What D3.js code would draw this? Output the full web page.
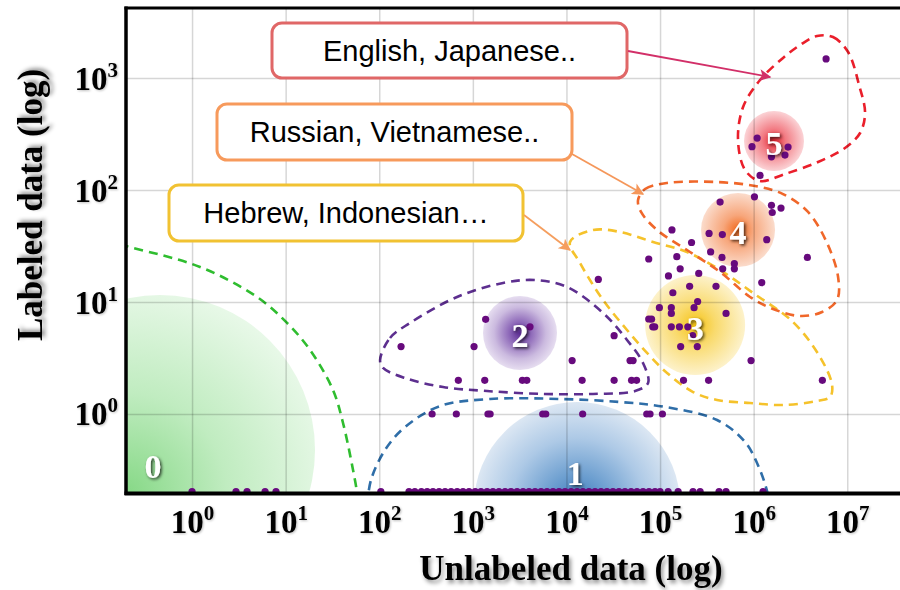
<!DOCTYPE html>
<html>
<head>
<meta charset="utf-8">
<script src="https://cdn.jsdelivr.net/npm/d3@7"></script>
<style>
  html, body { margin: 0; padding: 0; background: #fff; }
  svg { display: block; }
</style>
</head>
<body>
<svg id="chart" width="900" height="590"></svg>
<script>
(function () {

    // ticks
    var xTickValues = [1e0, 1e1, 1e2, 1e3, 1e4, 1e5, 1e6, 1e7];
    var xTickExponents = ["0", "1", "2", "3", "4", "5", "6", "7"];
    var yTickValues = [1e0, 1e1, 1e2, 1e3];
    var yTickExponents = ["0", "1", "2", "3"];

    // languages: [unlabeled, labeled]
    var scatterPoints = [
	[5.94e6, 1480], [1.09e6, 291], [9.6e5, 244], [1.55e6, 198], [2.33e6, 242], [2.16e6, 205], [1.17e6, 135],
	[4.38e5, 78], [1.02e6, 87], [1.55e6, 73], [1.96e6, 69], [1.58e6, 63], [3.34e5, 41], [4.63e5, 40],
	[1.38e6, 36], [2.17e5, 34], [1.34e5, 44], [3.47e5, 28], [4.59e5, 25], [6.22e5, 22], [6.22e5, 19.8],
	[4.67e5, 19.8], [3.75e6, 25], [2.59e5, 18], [1.22e6, 14.9], [3.96e5, 13.8], [2.07e5, 13.8],
	[2.52e5, 10.1], [2.31e5, 8.9], [5.07e5, 7.9], [2.23e5, 5.0], [2.50e5, 4.0], [9.38e5, 3.0],
	[3.30e5, 2.0], [5.42e6, 2.0],
	[7.57e4, 24.2], [1.51e5, 25.4], [1.64e5, 19.8], [1.23e5, 17.1], [2.19e4, 15.9], [1.37e5, 12.1],
	[9.84e4, 8.9], [1.32e5, 8.9], [1.32e5, 7.9], [7.57e4, 7.05], [8.11e4, 7.03], [8.36e4, 6.0],
	[8.77e4, 6.0], [1.32e5, 6.0], [1.61e5, 6.0], [1.98e5, 6.0], [1.66e5, 4.0], [3.23e4, 5.0],
	[1.15e4, 3.0], [4.78e4, 3.0], [5.15e4, 3.0], [1.47e4, 2.0], [3.23e4, 2.0], [4.96e4, 2.0],
	[5.61e4, 2.0], [1.78e5, 2.0], [1.49e4, 1], [7.21e4, 1], [7.82e4, 1], [1.06e5, 1],
	[1.37e3, 7.0], [4.08e3, 6.0], [171, 4.0], [1.03e3, 4.0], [700, 2.0], [1.34e3, 2.0],
	[3.38e3, 2.0], [3.77e3, 2.0], [367, 1], [666, 1], [1.45e3, 1], [1.53e3, 1], [5.58e3, 1], [6.01e3, 1]
    ];

    // languages with no labeled data (drawn on the x axis)
    var zeroLabeled = [
	1.0, 2.95, 3.87, 6.03, 7.89, 104,
	208, 240, 282, 325, 375, 436, 505, 585, 680, 785, 910, 1060, 1220, 1420, 1640, 1900,
	2210, 2560, 2970, 3440, 3980, 4620, 5350, 6200, 7190, 8330, 9660, 1.12e4, 1.3e4, 1.5e4,
	1.74e4, 2.02e4, 2.34e4, 2.71e4, 3.14e4, 3.64e4, 4.22e4, 4.9e4, 5.67e4, 6.58e4, 7.62e4,
	8.83e4, 1.0e5, 1.22e5, 1.56e5, 2.25e5, 2.68e5, 4.27e5, 5.07e5, 1.26e6
    ];

    // clusters
    var clusterNames = ["0", "1", "2", "3", "4", "5"];
    var clusterCenters = [[0.455, 0.477], [1.30e4, 0.154], [3.19e3, 5.29], [2.37e5, 6.23], [6.81e5, 44], [1.65e6, 274]];
    var clusterLabelAt = [[0.383, 0.343], [1.24e4, 0.297], [3.19e3, 5.07], [2.37e5, 5.86], [6.81e5, 42.2], [1.65e6, 263]];

    // hulls, in decades [log10 unlabeled, log10 labeled]
    var hullGreen = [[-0.769, 1.518], [-0.705, 1.500], [0.085, 1.313], [0.694, 1.045], [1.015, 0.813], [1.261, 0.571],
	[1.506, 0.214], [1.613, -0.080], [1.720, -0.500], [1.763, -0.705], [1.774, -0.813]];
    var hullBlue = [[1.870, -0.813], [1.912, -0.589], [2.062, -0.321], [2.276, -0.116], [2.650, 0.071], [3.184, 0.134],
	[3.932, 0.134], [4.573, 0.107], [5.053, 0.063], [5.609, -0.054], [5.908, -0.250], [6.068, -0.500],
	[6.154, -0.723], [6.175, -0.813]];
    var hullPurple = [[2.009, 0.482], [2.115, 0.679], [2.329, 0.813], [2.831, 1.045], [3.323, 1.170], [3.665, 1.196],
	[4.006, 1.134], [4.391, 0.902], [4.647, 0.661], [4.818, 0.455], [4.872, 0.277], [4.733, 0.205],
	[4.284, 0.179], [3.750, 0.179], [3.152, 0.205], [2.682, 0.241], [2.276, 0.321], [2.041, 0.411]];
    var hullYellow = [[4.038, 1.536], [4.284, 1.643], [4.573, 1.625], [4.925, 1.536], [5.288, 1.446], [5.641, 1.286],
	[5.994, 1.080], [6.421, 0.821], [6.709, 0.509], [6.838, 0.259], [6.816, 0.152], [6.677, 0.116],
	[6.314, 0.080], [5.962, 0.098], [5.609, 0.125], [5.353, 0.196], [5.075, 0.366], [4.861, 0.545],
	[4.647, 0.750], [4.391, 1.018], [4.145, 1.348]];
    var hullOrange = [[4.765, 1.911], [4.840, 2.009], [5.075, 2.063], [5.609, 2.071], [6.015, 2.036], [6.314, 1.964],
	[6.581, 1.804], [6.784, 1.527], [6.902, 1.223], [6.891, 1.018], [6.731, 0.911], [6.496, 0.875],
	[6.207, 0.938], [5.962, 1.045], [5.641, 1.268], [5.288, 1.464], [4.968, 1.643], [4.797, 1.804]];
    var hullRed = [[6.677, 3.375], [6.848, 3.366], [7.009, 3.232], [7.126, 2.938], [7.190, 2.688], [7.137, 2.509],
	[6.976, 2.375], [6.688, 2.250], [6.335, 2.143], [6.068, 2.080], [5.908, 2.179], [5.833, 2.446],
	[5.887, 2.741], [6.068, 2.982], [6.314, 3.179], [6.496, 3.295]];

    // annotations
    var noteTexts = ["English, Japanese..", "Russian, Vietnamese..", "Hebrew, Indonesian\u2026"];
    var noteTargets = [[1.50e6, 1020], [6.58e4, 92], [1.09e4, 29.1]];

    // ---- layout / style ----
    var left = 126, right = 900, top = 8, bottom = 493;
    var clusterRadius = [155, 103, 37, 50, 37, 30];
    var clusterStops = [
	[[0, "#86d886"], [0.45, "#c0ecc0"], [1, "#edfaed"]],
	[[0, "#3a78bb"], [0.3, "#6d9fd0"], [0.65, "#adc9e6"], [1, "#dce7f3"]],
	[[0, "#5a2a91"], [0.3, "#8e69b9"], [0.7, "#cbbadf"], [1, "#e6ddf0"]],
	[[0, "#f6c314"], [0.4, "#f9da6c"], [1, "#fdf2cb"]],
	[[0, "#f2691c"], [0.4, "#f7a67b"], [1, "#fbdccc"]],
	[[0, "#e8222e"], [0.4, "#f27c84"], [1, "#fbd3d6"]]
    ];
    var hulls = [
	{pts: hullGreen, color: "#2fbd2f", closed: false},
	{pts: hullBlue, color: "#2f6ea8", closed: false},
	{pts: hullPurple, color: "#5d2f8f", closed: true},
	{pts: hullYellow, color: "#f5c22b", closed: true},
	{pts: hullOrange, color: "#f0672a", closed: true},
	{pts: hullRed, color: "#ea1f2b", closed: true}
    ];
    var noteBoxes = [
	{x: 272, y: 23, w: 355, h: 55, stroke: "#e06767", arrow: "#d22f68", sx: 628, sy: 51},
	{x: 217, y: 104, w: 355, h: 56, stroke: "#f79a5c", arrow: "#f5975a", sx: 572, sy: 154},
	{x: 169, y: 185, w: 354, h: 56, stroke: "#f1c232", arrow: "#f59e5e", sx: 524, sy: 215}
    ];

    var svg = d3.select("#chart");

    var x = d3.scaleLog().domain([0.197, 3.66e7]).range([left, right]);
    var y = d3.scaleLog().domain([0.197, 4220]).range([bottom, top]);

    var defs = svg.append("defs");
    defs.append("clipPath").attr("id", "plot-clip")
	.append("rect").attr("x", left).attr("y", top)
	.attr("width", right - left).attr("height", bottom - top);

    function shadow(id, dx, dy, sd, op) {
	defs.append("filter").attr("id", id)
	    .attr("x", "-20%").attr("y", "-20%").attr("width", "140%").attr("height", "140%")
	    .append("feDropShadow")
	    .attr("dx", dx).attr("dy", dy).attr("stdDeviation", sd)
	    .attr("flood-color", "#000").attr("flood-opacity", op);
    }
    shadow("title-shadow", 2, 3, 2, 0.45);
    shadow("tick-shadow", 1, 1, 1, 0.25);
    shadow("label-shadow", 1.5, 1.5, 1.5, 0.75);

    clusterStops.forEach(function (stops, i) {
	var g = defs.append("radialGradient").attr("id", "grad" + i);
	if (i === 0) {
	    g.attr("cx", "0.39").attr("cy", "0.64").attr("fx", "0.39").attr("fy", "0.64").attr("r", "0.72");
	}
	stops.forEach(function (s) {
	    g.append("stop").attr("offset", s[0]).attr("stop-color", s[1]);
	});
    });

    var plot = svg.append("g").attr("clip-path", "url(#plot-clip)");

    // cluster blobs
    plot.selectAll("circle.blob")
	.data(clusterCenters)
	.enter().append("circle")
	.attr("class", "blob")
	.attr("cx", function (d) { return x(d[0]); })
	.attr("cy", function (d) { return y(d[1]); })
	.attr("r", function (d, i) { return clusterRadius[i]; })
	.style("fill", function (d, i) { return "url(#grad" + i + ")"; });

    // grid
    var gx = svg.append("g")
	.attr("transform", "translate(0," + bottom + ")")
	.call(d3.axisBottom(x).tickValues(xTickValues).tickSize(-(bottom - top)).tickFormat(""));
    var gy = svg.append("g")
	.attr("transform", "translate(" + left + ",0)")
	.call(d3.axisLeft(y).tickValues(yTickValues).tickSize(-(right - left)).tickFormat(""));
    [gx, gy].forEach(function (g) {
	g.select(".domain").remove();
	g.selectAll("line").attr("stroke", "rgba(0,0,0,0.16)").attr("stroke-width", 1.5);
    });

    // hull outlines
    hulls.forEach(function (h) {
	var line = d3.line()
	    .x(function (d) { return x(Math.pow(10, d[0])); })
	    .y(function (d) { return y(Math.pow(10, d[1])); })
	    .curve(h.closed ? d3.curveCatmullRomClosed.alpha(0.5) : d3.curveCatmullRom.alpha(0.5));
	plot.append("path")
	    .attr("d", line(h.pts))
	    .attr("fill", "none")
	    .attr("stroke", h.color)
	    .attr("stroke-width", 2.6)
	    .attr("stroke-dasharray", "9,6");
    });

    // points
    var dotColor = "#670a7d";
    svg.selectAll("circle.dot")
	.data(scatterPoints)
	.enter().append("circle")
	.attr("class", "dot")
	.attr("cx", function (d) { return x(d[0]); })
	.attr("cy", function (d) { return y(d[1]); })
	.attr("r", 3.6)
	.style("fill", dotColor);
    svg.selectAll("circle.zero")
	.data(zeroLabeled)
	.enter().append("circle")
	.attr("class", "zero")
	.attr("cx", function (d) { return x(d); })
	.attr("cy", bottom - 1.5)
	.attr("r", 3.6)
	.style("fill", dotColor);

    // frame
    svg.append("line").attr("x1", left - 1.5).attr("x2", right).attr("y1", top).attr("y2", top)
	.attr("stroke", "#000").attr("stroke-width", 3);
    svg.append("line").attr("x1", left).attr("x2", left).attr("y1", top - 1.5).attr("y2", bottom + 2)
	.attr("stroke", "#000").attr("stroke-width", 3.5);
    svg.append("line").attr("x1", left - 1.5).attr("x2", right).attr("y1", bottom + 0.5).attr("y2", bottom + 0.5)
	.attr("stroke", "#000").attr("stroke-width", 4);

    // tick labels
    var tickFont = "'Liberation Serif', 'Times New Roman', serif";
    var ax = svg.append("g")
	.attr("transform", "translate(0," + bottom + ")")
	.call(d3.axisBottom(x).tickValues(xTickValues).tickSize(0).tickFormat(""));
    var ay = svg.append("g")
	.attr("transform", "translate(" + left + ",0)")
	.call(d3.axisLeft(y).tickValues(yTickValues).tickSize(0).tickFormat(""));
    [ax, ay].forEach(function (g) { g.select(".domain").remove(); });

    function powerLabel(sel, exps) {
	sel.each(function (d, i) {
	    var t = d3.select(this);
	    t.text(null)
		.attr("fill", "#000")
		.style("font-family", tickFont)
		.style("font-weight", "bold")
		.style("font-size", "33px")
		.attr("filter", "url(#tick-shadow)");
	    t.append("tspan").text("10");
	    t.append("tspan").attr("dy", -13).style("font-size", "21px").text(exps[i]);
	});
    }
    ax.selectAll(".tick text").call(powerLabel, xTickExponents)
	.attr("y", 40).attr("dy", 0).attr("text-anchor", "middle");
    ay.selectAll(".tick text").call(powerLabel, yTickExponents)
	.attr("x", -8).attr("y", 11).attr("dy", 0).attr("text-anchor", "end");

    // axis titles
    svg.append("text")
	.attr("x", 571).attr("y", 580)
	.attr("text-anchor", "middle")
	.attr("filter", "url(#title-shadow)")
	.style("font-family", tickFont).style("font-weight", "bold").style("font-size", "35px")
	.text("Unlabeled data (log)");
    svg.append("text")
	.attr("transform", "translate(42,205) rotate(-90)")
	.attr("text-anchor", "middle")
	.attr("filter", "url(#title-shadow)")
	.style("font-family", tickFont).style("font-weight", "bold").style("font-size", "35px")
	.text("Labeled data (log)");

    // cluster numbers
    svg.selectAll("text.cluster")
	.data(clusterLabelAt)
	.enter().append("text")
	.attr("class", "cluster")
	.attr("x", function (d) { return x(d[0]); })
	.attr("y", function (d) { return y(d[1]); })
	.attr("dy", "0.35em")
	.attr("text-anchor", "middle")
	.attr("fill", "#fff")
	.attr("filter", "url(#label-shadow)")
	.style("font-family", tickFont).style("font-weight", "bold").style("font-size", "34px")
	.text(function (d, i) { return clusterNames[i]; });

    // annotation boxes + arrows
    noteBoxes.forEach(function (b, i) {
	defs.append("marker").attr("id", "head" + i)
	    .attr("viewBox", "0 0 10 10").attr("refX", 9).attr("refY", 5)
	    .attr("markerUnits", "userSpaceOnUse")
	    .attr("markerWidth", 14).attr("markerHeight", 12)
	    .attr("orient", "auto")
	    .append("path").attr("d", "M0,0 L10,5 L0,10 L2.5,5 Z").attr("fill", b.arrow);

	svg.append("rect")
	    .attr("x", b.x).attr("y", b.y).attr("width", b.w).attr("height", b.h)
	    .attr("rx", 10).attr("ry", 10)
	    .attr("fill", "#fff").attr("stroke", b.stroke).attr("stroke-width", 3);
	svg.append("text")
	    .attr("x", b.x + b.w / 2).attr("y", b.y + b.h / 2)
	    .attr("dy", "0.35em").attr("text-anchor", "middle")
	    .style("font-family", "'Liberation Sans', Arial, sans-serif").style("font-size", "29px")
	    .attr("fill", "#000")
	    .text(noteTexts[i]);
	svg.append("line")
	    .attr("x1", b.sx).attr("y1", b.sy)
	    .attr("x2", x(noteTargets[i][0])).attr("y2", y(noteTargets[i][1]))
	    .attr("stroke", b.arrow).attr("stroke-width", 1.8)
	    .attr("marker-end", "url(#head" + i + ")");
    });

})();
</script>
</body>
</html>
